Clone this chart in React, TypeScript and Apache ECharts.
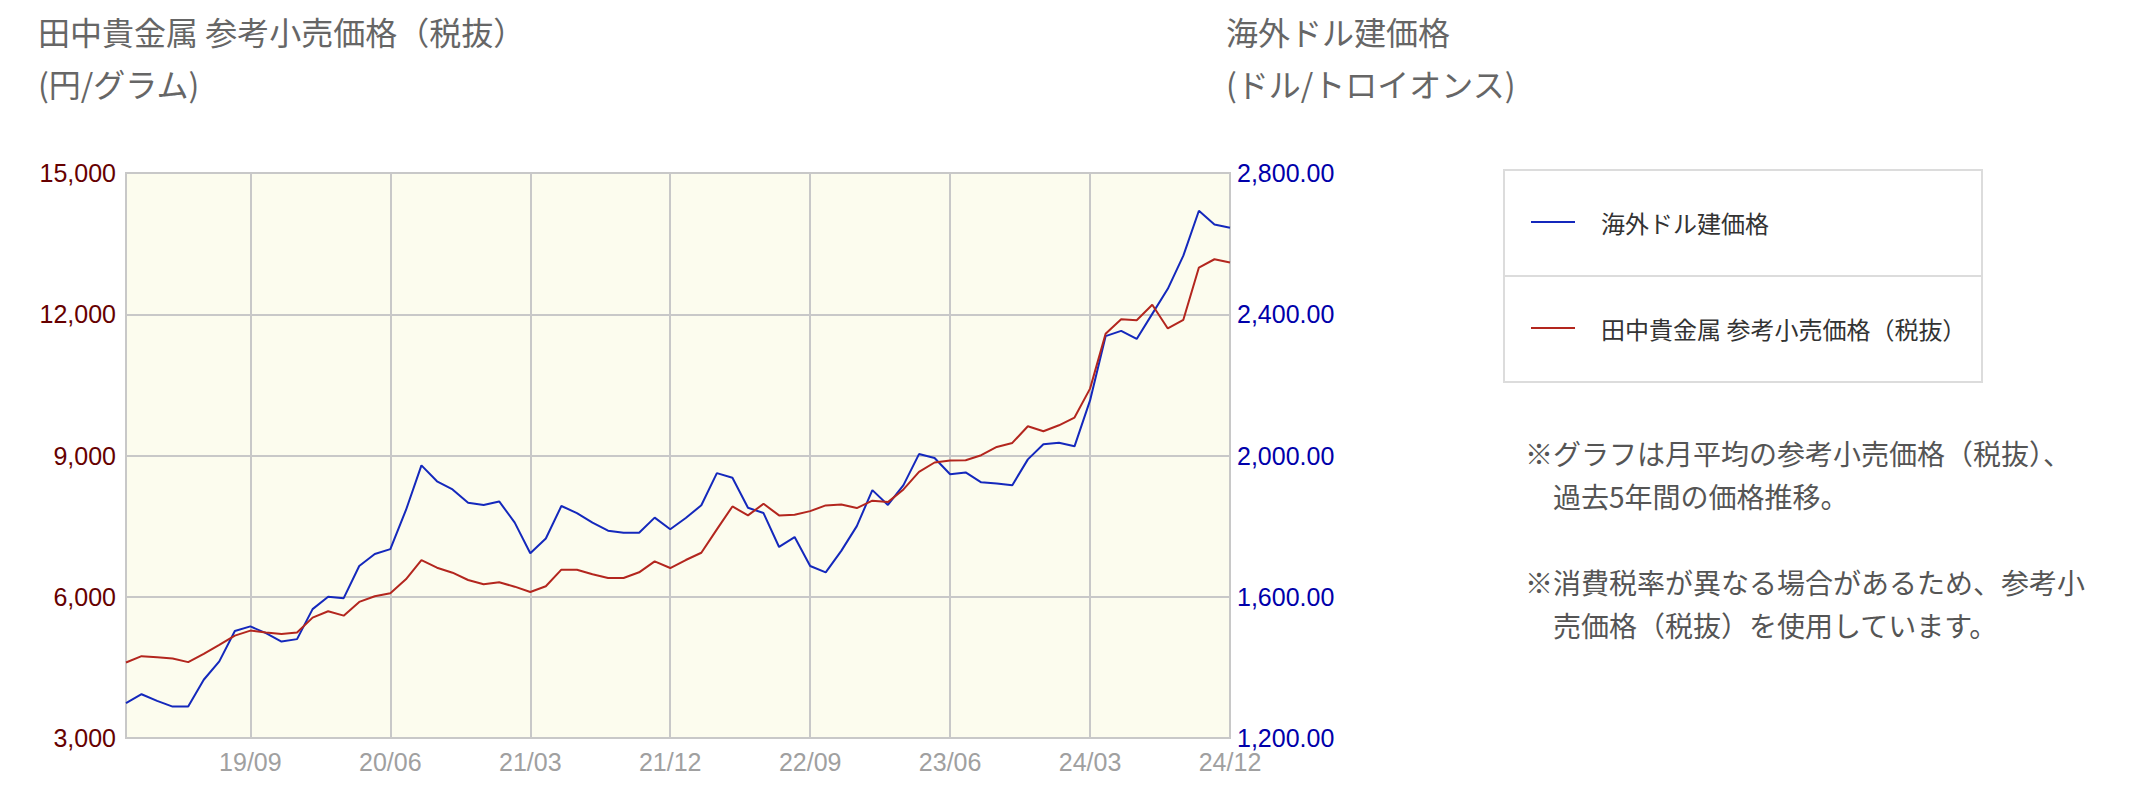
import { useEffect, useRef } from 'react';
import * as echarts from 'echarts';

const years = ['19', '20', '21', '22', '23', '24'];
const monthNums = ['01', '02', '03', '04', '05', '06', '07', '08', '09', '10', '11', '12'];
const categories = years.flatMap((y) => monthNums.map((m) => `${y}/${m}`));

// 海外ドル建価格 (USD/oz), 2019/01 - 2024/12
const usdPrice = [
  1299, 1324, 1305, 1289, 1289, 1365, 1417, 1503, 1516, 1497, 1473, 1480,
  1565, 1600, 1596, 1687, 1721, 1735, 1845, 1972, 1927, 1904, 1866, 1860,
  1870, 1810, 1723, 1765, 1857, 1837, 1810, 1787, 1781, 1781, 1824, 1791,
  1823, 1859, 1950, 1937, 1852, 1837, 1741, 1769, 1687, 1669, 1730, 1800,
  1902, 1860, 1916, 2004, 1993, 1947, 1952, 1924, 1921, 1916, 1989, 2032,
  2036, 2026, 2156, 2338, 2353, 2330, 2401, 2472, 2566, 2693, 2654, 2645,
];

// 田中貴金属 参考小売価格（税抜） (円/グラム)
const yenPrice = [
  4603, 4738, 4717, 4688, 4611, 4787, 4978, 5175, 5281, 5239, 5211, 5239,
  5557, 5692, 5599, 5890, 6010, 6074, 6371, 6780, 6617, 6511, 6356, 6265,
  6307, 6214, 6102, 6222, 6575, 6575, 6477, 6398, 6398, 6519, 6752, 6610,
  6780, 6935, 7431, 7918, 7728, 7974, 7728, 7741, 7819, 7940, 7961, 7883,
  8040, 8010, 8279, 8652, 8851, 8894, 8900, 9006, 9182, 9267, 9621, 9515,
  9642, 9805, 10420, 11586, 11896, 11874, 12201, 11698, 11883, 12992, 13168, 13098,
];

const seriesNames = ['海外ドル建価格', '田中貴金属 参考小売価格（税抜）'];

const notes = [
  '※グラフは月平均の参考小売価格（税抜）、',
  '過去5年間の価格推移。',
  '※消費税率が異なる場合があるため、参考小',
  '売価格（税抜）を使用しています。',
];

const JP = '"Noto Sans CJK JP", "Noto Sans", sans-serif';
const NUM = '"Liberation Sans", Arial, sans-serif';

// every 9th month from 19/09
const showTick = (index: number) => index >= 8 && (index - 8) % 9 === 0;

export default function App() {
  const chartRef = useRef<HTMLDivElement>(null);

  useEffect(() => {
    document.body.style.margin = '0';
    if (!chartRef.current) return;
    const chart = echarts.init(chartRef.current, undefined, { renderer: 'svg' });

    const notePos = [
      { x: 1525, y: 453 },
      { x: 1553, y: 496 },
      { x: 1525, y: 582 },
      { x: 1553, y: 625 },
    ];

    const titleStyle = { fontFamily: JP, fontSize: 32, fontWeight: 'normal' as const, color: '#666', lineHeight: 52 };

    const option: echarts.EChartsOption = {
      animation: false,
      title: [
        {
          text: '田中貴金属 参考小売価格（税抜）\n(円/グラム)',
          left: 38,
          top: 5,
          padding: 0,
          textStyle: titleStyle,
        },
        {
          text: '海外ドル建価格\n(ドル/トロイオンス)',
          left: 1226,
          top: 5,
          padding: 0,
          textStyle: titleStyle,
        },
      ],
      grid: {
        left: 126,
        top: 173,
        width: 1104,
        height: 565,
        show: true,
        backgroundColor: '#fcfcee',
        borderColor: '#c8c8c8',
        borderWidth: 2,
      },
      legend: {
        data: seriesNames,
        orient: 'vertical',
        left: 1531,
        top: 210,
        padding: 0,
        itemWidth: 44,
        itemHeight: 2,
        itemGap: 82,
        icon: 'rect',
        selectedMode: false,
        textStyle: { fontFamily: JP, fontSize: 24, color: '#333', lineHeight: 24, padding: [0, 0, 0, 21] },
      },
      xAxis: {
        type: 'category',
        data: categories,
        boundaryGap: false,
        axisLine: { show: true, lineStyle: { color: '#c8c8c8', width: 2 } },
        axisTick: { show: false },
        axisLabel: {
          interval: (index: number) => showTick(index),
          margin: 11,
          fontFamily: NUM,
          fontSize: 25,
          color: '#a0a0a0',
        },
        splitLine: {
          show: true,
          interval: (index: number) => showTick(index),
          lineStyle: { color: '#c8c8c8', width: 2 },
        },
      },
      yAxis: [
        {
          type: 'value',
          min: 3000,
          max: 15000,
          interval: 3000,
          axisLine: { show: false },
          axisTick: { show: false },
          axisLabel: {
            margin: 10,
            fontFamily: NUM,
            fontSize: 25,
            color: '#660000',
            padding: [0, 0, 6, 0],
            formatter: (v: number) => v.toLocaleString('en-US'),
          },
          splitLine: { lineStyle: { color: '#c8c8c8', width: 2 } },
        },
        {
          type: 'value',
          min: 1200,
          max: 2800,
          interval: 400,
          axisLine: { show: false },
          axisTick: { show: false },
          axisLabel: {
            margin: 7,
            fontFamily: NUM,
            fontSize: 25,
            color: '#0000aa',
            padding: [0, 0, 6, 0],
            formatter: (v: number) =>
              v.toLocaleString('en-US', { minimumFractionDigits: 2, maximumFractionDigits: 2 }),
          },
          splitLine: { show: false },
        },
      ],
      graphic: [
        {
          type: 'rect',
          shape: { x: 1504, y: 170, width: 478, height: 212 },
          style: { fill: '#fff', stroke: '#dcdcdc', lineWidth: 2 },
          z: -1,
        },
        {
          type: 'line',
          shape: { x1: 1504, y1: 276, x2: 1982, y2: 276 },
          style: { stroke: '#dcdcdc', lineWidth: 2 },
        },
        ...notes.map((t, i) => ({
          type: 'text' as const,
          x: notePos[i].x,
          y: notePos[i].y,
          style: {
            text: t,
            fontFamily: JP,
            fontSize: 28,
            fill: '#555',
            verticalAlign: 'middle' as const,
          },
        })),
      ],
      series: [
        {
          name: seriesNames[0],
          type: 'line',
          yAxisIndex: 1,
          data: usdPrice,
          symbol: 'none',
          color: '#1428bc',
          lineStyle: { color: '#1428bc', width: 2 },
        },
        {
          name: seriesNames[1],
          type: 'line',
          yAxisIndex: 0,
          data: yenPrice,
          symbol: 'none',
          color: '#b3261e',
          lineStyle: { color: '#b3261e', width: 2 },
        },
      ],
    };

    chart.setOption(option);
    return () => chart.dispose();
  }, []);

  return <div ref={chartRef} style={{ width: 2136, height: 802 }}></div>;
}
